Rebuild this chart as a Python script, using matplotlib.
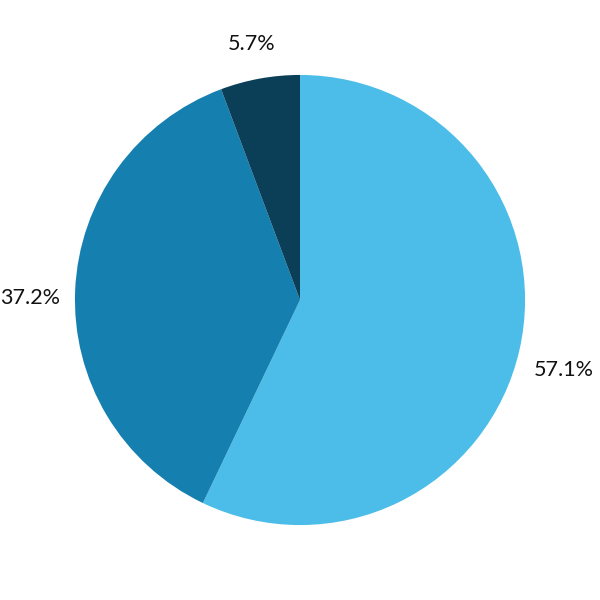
import matplotlib
matplotlib.use("Agg")
import matplotlib.pyplot as plt

# データ
shares = [57.1, 37.2, 5.7]
colors = ["#4bbde8", "#1580b0", "#0b3f58"]

plt.rcParams["font.family"] = ["Lato", "DejaVu Sans"]

fig = plt.figure(figsize=(6, 6), dpi=100)
ax = fig.add_axes([0, 0, 1, 1])

wedges, texts, autotexts = ax.pie(
    shares,
    colors=colors,
    startangle=90,
    counterclock=False,
    radius=1.0,
    autopct="%.1f%%",
    pctdistance=1.2,
    wedgeprops={"linewidth": 0},
    textprops={"fontsize": 15.5, "color": "#111111"},
)
# ラベルは少し下寄せ
for t in autotexts:
    t.set_va("top")

ax.set_xlim(-1.333, 1.333)
ax.set_ylim(-1.333, 1.333)
ax.set_aspect("equal")
ax.axis("off")

fig.savefig("out.png", dpi=100)
plt.close(fig)
